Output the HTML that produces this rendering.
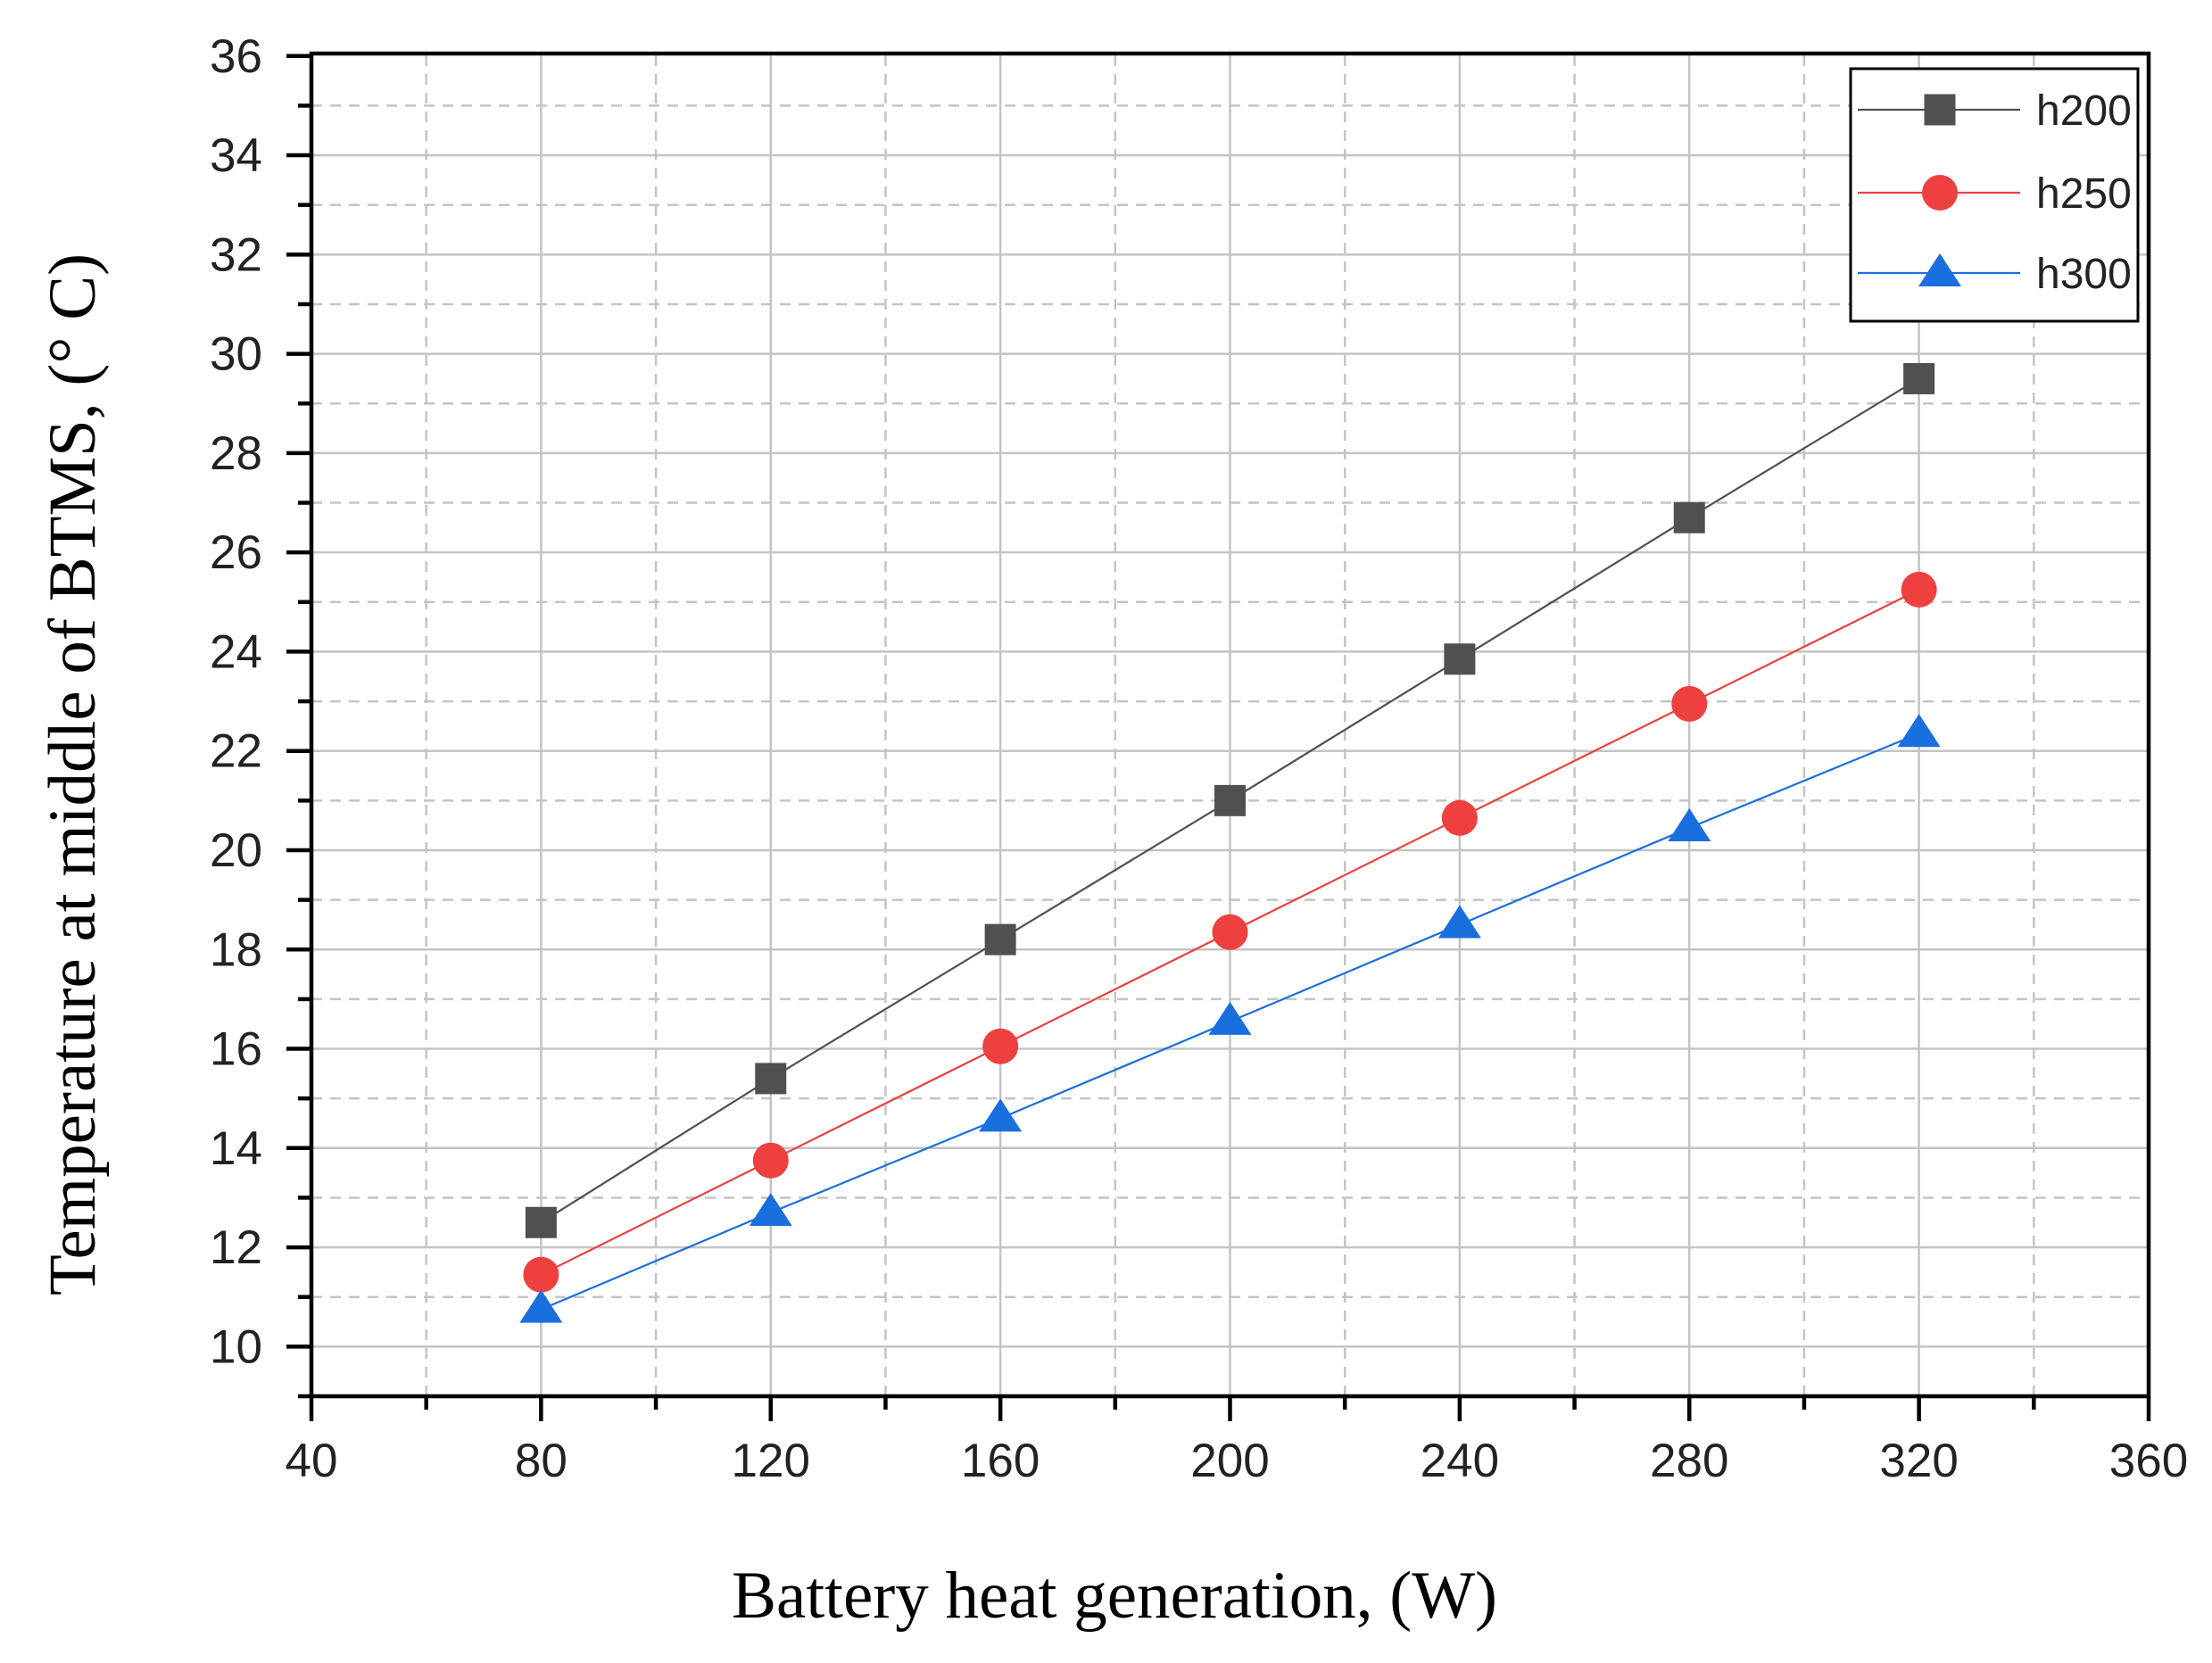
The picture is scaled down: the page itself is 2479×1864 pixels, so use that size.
<!DOCTYPE html>
<html><head><meta charset="utf-8"><style>
html,body{margin:0;padding:0;background:#fff;}
svg{display:block;}
</style></head><body>
<svg id="chart" xmlns="http://www.w3.org/2000/svg" width="2479" height="1864" viewBox="0 0 2479 1864">
<rect width="2479" height="1864" fill="#fff"/>
<g id="grid"></g>
<g id="axes"></g>
<g id="series"></g>
<g id="legend"></g>
<text x="1249" y="1813" font-family="Liberation Serif, serif" font-size="75" text-anchor="middle" fill="#000">Battery heat generation, (W)</text>
<text transform="translate(106,868) rotate(-90)" font-family="Liberation Serif, serif" font-size="75" text-anchor="middle" fill="#000">Temperature at middle of BTMS, (° C)</text>
</svg>
<script>
const categories = [80,120,160,200,240,280,320];
const h200 = [12.5,15.4,18.2,21.0,23.85,26.7,29.5];
const h250 = [11.45,13.75,16.05,18.35,20.65,22.95,25.25];
const h300 = [10.75,12.7,14.6,16.55,18.5,20.45,22.35];
const xTicks = [40,80,120,160,200,240,280,320,360];
const yTicks = [10,12,14,16,18,20,22,24,26,28,30,32,34,36];
const seriesNames = ['h200','h250','h300'];

const NS='http://www.w3.org/2000/svg';
const X0=349,X1=2408,Y0=1565,Y1=60;
const xMin=40,xMax=360,yMin=9,yMax=36.05;
function sx(v){return X0+(v-xMin)/(xMax-xMin)*(X1-X0);}
function sy(v){return Y0-(v-yMin)/(yMax-yMin)*(Y0-Y1);}
function mk(tag,attrs,parent){const e=document.createElementNS(NS,tag);for(const k in attrs)e.setAttribute(k,attrs[k]);parent.appendChild(e);return e;}
const grid=document.getElementById('grid'),axes=document.getElementById('axes'),ser=document.getElementById('series'),leg=document.getElementById('legend');

for(let v=60;v<360;v+=40){const x=sx(v);const l=mk('line',{x1:x,x2:x,y1:Y0,y2:Y1,stroke:'#c4c4c4','stroke-width':2.5,'stroke-dasharray':'12,9'},grid);

}
for(let i=1;i<xTicks.length-1;i++){const x=sx(xTicks[i]);const l=mk('line',{x1:x,x2:x,y1:Y0,y2:Y1,stroke:'#c4c4c4','stroke-width':2.5},grid);

}
for(let v=9;v<36;v+=2){const y=sy(v);const l=mk('line',{x1:X0,x2:X1,y1:y,y2:y,stroke:'#c4c4c4','stroke-width':2.5,'stroke-dasharray':'12,9'},grid);

}
for(const v of yTicks){if(v===36)continue;const y=sy(v);const l=mk('line',{x1:X0,x2:X1,y1:y,y2:y,stroke:'#c4c4c4','stroke-width':2.5},grid);

}

const fr=mk('rect',{x:X0,y:Y1,width:X1-X0,height:Y0-Y1,fill:'none',stroke:'#000','stroke-width':4.5},axes);



for(const v of xTicks){const x=sx(v);const t=mk('line',{x1:x,x2:x,y1:Y0,y2:Y0+28,stroke:'#000','stroke-width':4.5},axes);


const tx=mk('text',{x:x,y:1655,'font-family':'Liberation Sans, sans-serif','font-size':53,'text-anchor':'middle',fill:'#222'},axes);tx.textContent=v;

}
for(let v=60;v<360;v+=40){const x=sx(v);const t=mk('line',{x1:x,x2:x,y1:Y0,y2:Y0+15,stroke:'#000','stroke-width':4.5},axes);

}
for(const v of yTicks){const y=sy(v);const t=mk('line',{x1:X0-28,x2:X0,y1:y,y2:y,stroke:'#000','stroke-width':4.5},axes);


const tx=mk('text',{x:294,y:y+18,'font-family':'Liberation Sans, sans-serif','font-size':53,'text-anchor':'end',fill:'#222'},axes);tx.textContent=v;

}
for(let v=9;v<36;v+=2){const y=sy(v);const t=mk('line',{x1:X0-15,x2:X0,y1:y,y2:y,stroke:'#000','stroke-width':4.5},axes);

}

const colors=['#505050','#ef4040','#1a6fdf'];
function marker(type,cx,cy,color,parent){
  let e;
  if(type===0)e=mk('rect',{x:cx-17.5,y:cy-17.5,width:35,height:35,fill:color},parent);
  else if(type===1)e=mk('circle',{cx:cx,cy:cy,r:20,fill:color},parent);
  else e=mk('polygon',{points:`${cx},${cy-22} ${cx+24},${cy+15} ${cx-24},${cy+15}`,fill:color},parent);
  return e;
}
const allData=[h200,h250,h300];
allData.forEach((d,si)=>{
  const g=mk('g',{},ser);
  
  
  const pts=d.map((v,i)=>sx(categories[i])+','+sy(v)).join(' ');
  const pl=mk('polyline',{points:pts,fill:'none',stroke:colors[si],'stroke-width':2.2},g);
  
  
  d.forEach((v,i)=>{const m=marker(si,sx(categories[i]),sy(v),colors[si],g);
    
    });
});

const lb=mk('rect',{x:2074,y:77,width:322,height:283,fill:'#fff',stroke:'#000','stroke-width':3},leg);


const ly=[123,216,306];
seriesNames.forEach((n,si)=>{
  const g=mk('g',{},leg);
  
  
  mk('line',{x1:2082,x2:2264,y1:ly[si],y2:ly[si],stroke:colors[si],'stroke-width':2.2},g);
  marker(si,2174,ly[si],colors[si],g);
  const t=mk('text',{x:2282,y:ly[si]+17,'font-family':'Liberation Sans, sans-serif','font-size':48,fill:'#222'},g);t.textContent=n;
});
</script>
</body></html>
